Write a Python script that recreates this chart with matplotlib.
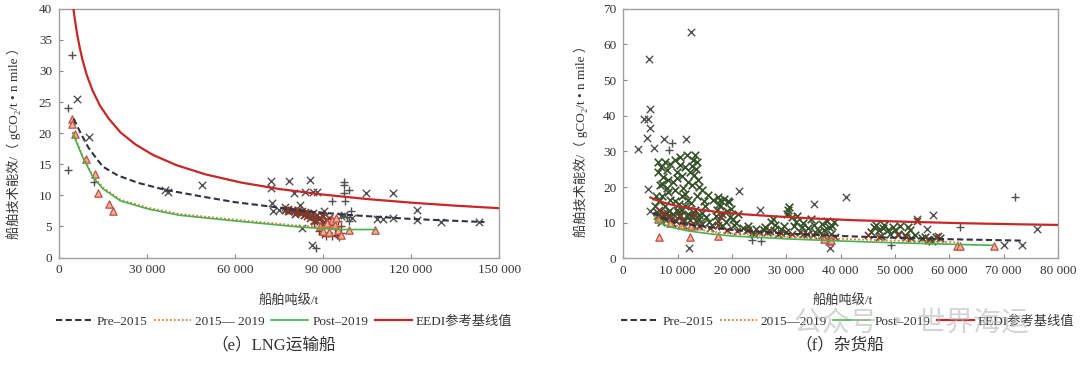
import matplotlib
matplotlib.use("Agg")
import matplotlib.pyplot as plt

plt.rcParams["font.family"] = ["Liberation Serif", "Noto Sans CJK SC", "DejaVu Serif"]
plt.rcParams["axes.unicode_minus"] = False

# ---------- (e) LNG carriers ----------
lng_eedi_x = [4900, 5200, 5600, 6200, 7000, 8000, 9500, 11500, 14000, 17000, 21000, 26000,
              32000, 40000, 50000, 62000, 75000, 90000, 105000, 120000, 135000, 150000]
lng_eedi_y = [40.1, 39.0, 37.7, 35.9, 33.9, 31.8, 29.3, 26.8, 24.4, 22.3, 20.1, 18.2,
              16.5, 14.85, 13.36, 12.06, 11.02, 10.12, 9.40, 8.82, 8.34, 7.93]
lng_pre_x = [5000, 7500, 10000, 12800, 15000, 20000, 27000, 36000, 50000, 60000, 72000,
             85000, 100000, 120000, 145000]
lng_pre_y = [22.3, 19.9, 17.7, 15.9, 14.6, 13.2, 12.0, 10.9, 9.7, 8.9, 8.2, 7.4, 6.8, 6.2, 5.7]
lng_mid_x = [4700, 8100, 11600, 15100, 21000, 30400, 41000, 59700, 82000, 96000]
lng_mid_y = [20.2, 16.3, 13.1, 11.2, 9.3, 8.0, 7.0, 6.1, 5.1, 4.8]
lng_post_x = [4700, 8100, 11600, 15100, 21000, 30400, 41000, 59700, 82000, 95000, 107800]
lng_post_y = [20.0, 16.1, 12.9, 11.0, 9.1, 7.8, 6.8, 5.9, 4.9, 4.5, 4.5]

lng_x_gray_x = [6000, 10400, 36000, 37100, 48800, 72200, 72200, 72500, 73000, 78500, 80000,
                82000, 77000, 82800, 86300, 84000, 86500, 88000, 85500, 90500, 104700, 113700,
                108500, 110500, 113700, 121900, 121900, 130100, 143200, 97000, 100000, 96000,
                78000, 75000]
lng_y_gray_x = [25.5, 19.3, 10.9, 10.6, 11.7, 12.3, 11.2, 8.8, 7.5, 12.3, 10.4,
                8.4, 8.2, 4.7, 2.0, 10.5, 10.5, 10.6, 12.5, 7.4, 10.3, 10.3,
                6.2, 6.2, 6.3, 7.7, 6.1, 5.7, 5.7, 6.8, 6.4, 6.6,
                7.5, 7.6]
lng_x_brown_x = [77000, 78500, 80000, 81000, 82000, 83000, 84000, 85000, 86000, 87000, 88000,
                 89000, 90000, 91000, 92000, 93000, 79500, 81500, 83500, 86500, 84500, 87500,
                 80500, 82500, 85500, 88500, 90500, 78000, 83800, 86800, 89500]
lng_y_brown_x = [7.6, 7.4, 7.5, 7.3, 7.1, 7.4, 7.0, 7.2, 6.8, 6.5, 6.9,
                 6.3, 6.7, 6.1, 6.4, 5.9, 7.7, 7.6, 6.8, 7.1, 6.6, 6.0,
                 7.0, 7.2, 6.4, 6.2, 5.7, 7.8, 7.3, 5.9, 6.9]
lng_x_brown_p = [88500, 89500, 91000, 93000, 95500, 96000, 94000, 92000, 95000, 90000, 96000,
                 87000, 91800, 94800]
lng_y_brown_p = [4.3, 3.8, 3.5, 3.4, 3.3, 4.0, 4.6, 5.2, 5.8, 5.6, 5.0, 5.5, 3.9, 3.6]
lng_x_gray_p = [3200, 4500, 3200, 12000, 97000, 97000, 97000, 97500, 93100, 99000, 99500,
                87500, 99000, 98000]
lng_y_gray_p = [24.1, 32.5, 14.1, 12.2, 12.1, 11.6, 10.3, 9.1, 9.1, 10.8, 7.5,
                1.6, 5.8, 6.5]
lng_x_tri = [4500, 4600, 5500, 9100, 12400, 13200, 17100, 18400, 89000, 90000, 91500, 93000,
             94000, 95000, 96000, 92000, 99000, 107600, 94500]
lng_y_tri = [22.3, 21.5, 19.9, 15.9, 13.4, 10.4, 8.6, 7.5, 5.0, 4.3, 5.6, 6.0,
             5.3, 4.5, 3.6, 4.1, 4.5, 4.5, 6.3]
lng_xticks = [0, 30000, 60000, 90000, 120000, 150000]
lng_xticklabels = ["0", "30 000", "60 000", "90 000", "120 000", "150 000"]
lng_yticks = [0, 5, 10, 15, 20, 25, 30, 35, 40]

# ---------- (f) general cargo ----------
gc_eedi_x = [5000, 6000, 8000, 10000, 13000, 17000, 22000, 28000, 35000, 43000, 52000,
             62000, 72000, 80000]
gc_eedi_y = [17.1, 16.4, 15.4, 14.7, 13.9, 13.1, 12.4, 11.8, 11.2, 10.7, 10.3, 9.9, 9.6, 9.4]
gc_pre_x = [5500, 7000, 10000, 15000, 20000, 30000, 40000, 50000, 60000, 73500]
gc_pre_y = [12.8, 11.5, 10.0, 8.9, 8.0, 7.0, 6.3, 5.8, 5.4, 5.0]
gc_mid_x = [5700, 7000, 9000, 12000, 16000, 20000, 30000, 40000, 50000, 62000]
gc_mid_y = [11.8, 10.6, 9.5, 8.5, 7.6, 7.0, 6.1, 5.5, 5.0, 4.5]
gc_post_x = [5700, 7000, 9000, 12000, 16000, 20000, 30000, 40000, 50000, 60000, 68000]
gc_post_y = [11.0, 9.8, 8.7, 7.7, 6.9, 6.3, 5.5, 4.9, 4.4, 4.0, 3.7]

gc_x_gray_x = [2700, 3900, 4500, 4400, 4500, 4800, 4900, 5000, 5600, 5000, 7500, 11600, 12400,
               12100, 21300, 25200, 35100, 40900, 57000, 54000, 55900, 76100, 70000, 73400, 38000]
gc_y_gray_x = [30.7, 39.1, 39.0, 33.8, 19.4, 56.0, 42.0, 36.6, 31.0, 13.3, 33.4, 33.4, 63.5,
               3.0, 18.9, 13.7, 15.3, 17.3, 12.3, 11.1, 8.3, 8.3, 3.9, 3.9, 2.8]
gc_x_green = [6440, 7670, 9510, 10430, 11660, 12890, 13200, 13500, 6440, 7360, 8280, 9810,
              11350, 12270, 13810, 14420, 15650, 6750, 7980, 9510, 11040, 12580, 7060, 8590,
              10740, 11960, 13500, 5830, 7670, 9810, 11350, 13200, 15030, 6440, 8280, 10430,
              12580, 14420, 16570, 17790, 17180,
              17350, 17600, 19380, 19830, 18240, 20140, 21090, 18880,
              22680, 23940, 25840, 27110, 27740, 29000, 29960,
              30150, 30590, 30270, 31860, 32810, 33760, 35340, 36610, 37880, 38200, 38830, 35030,
              46110, 47060, 48020, 48640, 49600, 50540, 51810, 52760, 53710, 54980, 56240,
              57510, 52440,
              7000, 9000, 11000, 13000, 8000, 10000, 12000, 14000, 6500, 9500, 12500,
              6200, 6800, 7400, 7800, 8400, 8800, 9200, 9700, 10200, 10800, 11200, 11700,
              12200, 12800, 13400, 13900, 14500, 15200, 15800, 16400,
              6900, 7200, 8000, 8600, 9100, 9900, 10500, 10900, 11400, 12000, 12600, 13000,
              13300, 14000, 14800, 8200, 10300, 6100,
              17000, 17800, 18500, 19000, 19600, 20300, 17500, 18200, 20800, 19200,
              22000, 23000, 24500, 26000, 26500, 28000, 28500, 29500, 27500, 24000,
              31000, 31500, 32000, 33000, 34000, 34500, 36000, 37000, 38500, 37500, 36500, 32500,
              45500, 46500, 47500, 49000, 50000, 51000, 53000, 55500, 56800, 58200, 47800]
gc_y_green = [27.1, 27.1, 27.6, 26.2, 29.0, 27.6, 29.0, 27.1, 24.3, 22.9, 22.0, 24.3,
              25.7, 24.3, 22.0, 19.2, 17.8, 20.6, 19.7, 19.2, 19.7, 20.6, 17.4, 16.4,
              17.4, 16.4, 17.4, 14.6, 14.6, 13.6, 14.6, 13.6, 14.6, 12.3, 11.8, 12.3,
              11.8, 12.7, 16.4, 16.4, 13.6,
              17.3, 15.4, 15.9, 14.0, 12.6, 11.2, 12.6, 10.3,
              7.9, 7.5, 7.9, 10.3, 7.9, 8.4, 7.5,
              12.6, 14.5, 13.6, 10.3, 8.9, 7.0, 7.5, 9.8, 8.9, 7.0, 10.3, 9.3,
              8.9, 7.9, 9.3, 7.9, 8.9, 7.0, 6.5, 7.9, 6.5, 5.6, 5.3,
              6.1, 8.9,
              10.3, 10.0, 9.5, 9.2, 12.8, 13.0, 12.5, 11.0, 16.0, 16.0, 15.5,
              13.0, 11.5, 12.2, 10.8, 13.4, 11.2, 12.6, 10.6, 11.8, 13.5, 10.4, 12.0,
              10.9, 13.1, 10.5, 12.2, 9.8, 11.5, 10.2, 9.4,
              25.5, 21.0, 24.8, 26.5, 21.5, 22.5, 28.5, 23.0, 18.0, 21.5, 26.0, 23.5,
              25.0, 20.0, 16.0, 18.5, 15.2, 17.5,
              12.0, 14.6, 16.8, 13.2, 11.5, 9.5, 10.5, 9.0, 10.0, 16.2,
              8.5, 9.0, 8.2, 8.8, 7.3, 9.4, 7.0, 9.0, 11.0, 7.0,
              11.5, 9.0, 12.0, 10.0, 8.5, 11.0, 7.8, 8.0, 9.0, 10.5, 6.5, 7.5,
              7.5, 9.5, 6.2, 6.8, 8.0, 9.0, 5.8, 6.0, 5.0, 5.8, 8.5]
gc_x_brown = [6500, 7500, 8500, 9500, 11000, 12500, 14000, 16000, 17500, 19000, 21000, 23000,
              25000, 27000, 29000, 31000, 33000, 35000, 37000, 39000, 45000, 47000, 50500,
              52000, 54000, 56000, 58000, 18000, 10500, 13000]
gc_y_brown = [13.5, 12.8, 11.5, 10.8, 10.2, 9.5, 9.0, 8.6, 9.3, 8.0, 7.6, 7.9,
              7.4, 7.7, 7.2, 7.0, 6.8, 6.5, 6.2, 6.0, 6.7, 6.0, 6.5,
              6.0, 10.5, 5.5, 6.2, 11.5, 11.9, 12.3]
gc_x_plus = [8900, 8400, 72100, 62000, 25300, 23600, 49300]
gc_y_plus = [32.3, 30.4, 17.1, 8.8, 4.9, 5.2, 3.9]
gc_x_tri = [6650, 12350, 6300, 8600, 10700, 12500, 17500, 37800, 38300, 37000, 61500, 62000, 68300]
gc_y_tri = [6.1, 6.1, 11.2, 10.0, 9.3, 9.0, 6.2, 5.0, 5.3, 5.5, 3.6, 3.6, 3.6]
gc_xticks = [0, 10000, 20000, 30000, 40000, 50000, 60000, 70000, 80000]
gc_xticklabels = ["0", "10 000", "20 000", "30 000", "40 000", "50 000", "60 000",
                  "70 000", "80 000"]
gc_yticks = [0, 10, 20, 30, 40, 50, 60, 70]

legend_labels_e = ["Pre–2015", "2015— 2019", "Post–2019", "EEDI参考基线值"]
legend_labels_f = ["Pre–2015", "2015—2019", "Post–2019", "EEDI参考基线值"]

C_GRAY = "#505050"
C_GREEN_PT = "#35522a"
C_BROWN = "#7d3a2c"
C_TRI_FACE = "#eeb48e"
C_TRI_EDGE = "#c0504d"
C_PRE = "#2e3440"
C_MID = "#e07b39"
C_POST = "#4caf50"
C_EEDI = "#c62828"

YLABEL = "船舶技术能效/（ gCO₂/t • n mile ）"
XLABEL = "船舶吨级/t"

fig = plt.figure(figsize=(10.8, 3.7), dpi=100)
ax1 = fig.add_axes([0.0546, 0.304, 0.4075, 0.6725])
ax2 = fig.add_axes([0.5771, 0.3014, 0.4025, 0.6751])


def draw_panel(ax, pts, lines, xticks, xticklabels, yticks, xmax, ymax):
    gx, gy, bx, by, px, py, qx, qy, tx, ty, extra = pts
    ax.scatter(gx, gy, marker="x", s=28, c=C_GRAY, linewidths=1.0, zorder=2)
    if extra is not None:
        ax.scatter(extra[0], extra[1], marker="x", s=30, c=C_GREEN_PT, linewidths=1.2, zorder=2)
    ax.scatter(bx, by, marker="x", s=26, c=C_BROWN, linewidths=1.2, zorder=3)
    ax.scatter(px, py, marker="+", s=32, c=C_BROWN, linewidths=1.0, zorder=3)
    ax.scatter(qx, qy, marker="+", s=32, c=C_GRAY, linewidths=1.0, zorder=3)
    ax.scatter(tx, ty, marker="^", s=28, facecolors=C_TRI_FACE, edgecolors=C_TRI_EDGE,
               linewidths=0.9, zorder=4)
    (prex, prey), (midx, midy), (postx, posty), (ex, ey) = lines
    h1, = ax.plot(prex, prey, ls=(0, (3, 1.6)), color=C_PRE, lw=1.5, zorder=5)
    h2, = ax.plot(midx, midy, ls=(0, (1, 1.2)), color=C_MID, lw=1.3, zorder=5)
    h3, = ax.plot(postx, posty, ls="-", color=C_POST, lw=1.2, zorder=5)
    h4, = ax.plot(ex, ey, ls="-", color=C_EEDI, lw=1.6, zorder=6)
    ax.set_xlim(0, xmax)
    ax.set_ylim(0, ymax)
    ax.set_xticks(xticks)
    ax.set_xticklabels(xticklabels)
    ax.set_yticks(yticks)
    ax.tick_params(direction="in", length=3, width=0.8, color="#888888",
                   labelsize=9.5, labelcolor="#333333", pad=5)
    for sp in ax.spines.values():
        sp.set_color("#a0a0a0")
        sp.set_linewidth(1.0)
    return [h1, h2, h3, h4]


handles_e = draw_panel(
    ax1,
    (lng_x_gray_x, lng_y_gray_x, lng_x_brown_x, lng_y_brown_x, lng_x_brown_p, lng_y_brown_p,
     lng_x_gray_p, lng_y_gray_p, lng_x_tri, lng_y_tri, None),
    ((lng_pre_x, lng_pre_y), (lng_mid_x, lng_mid_y), (lng_post_x, lng_post_y),
     (lng_eedi_x, lng_eedi_y)),
    lng_xticks, lng_xticklabels, lng_yticks, 150000, 40)

handles_f = draw_panel(
    ax2,
    (gc_x_gray_x, gc_y_gray_x, gc_x_brown, gc_y_brown, [], [], gc_x_plus, gc_y_plus,
     gc_x_tri, gc_y_tri, (gc_x_green, gc_y_green)),
    ((gc_pre_x, gc_pre_y), (gc_mid_x, gc_mid_y), (gc_post_x, gc_post_y),
     (gc_eedi_x, gc_eedi_y)),
    gc_xticks, gc_xticklabels, gc_yticks, 80000, 70)

# axis titles
fig.text(0.013, 0.622, YLABEL, rotation=90, ha="center", va="center", fontsize=9.5, color="#333333")
fig.text(0.5376, 0.627, YLABEL, rotation=90, ha="center", va="center", fontsize=9.5, color="#333333")
fig.text(0.2676, 0.189, XLABEL, ha="center", va="center", fontsize=9.5, color="#333333")
fig.text(0.7806, 0.189, XLABEL, ha="center", va="center", fontsize=9.5, color="#333333")

# legends
for handles, labels, cx in ((handles_e, legend_labels_e, 0.263), (handles_f, legend_labels_f, 0.785)):
    fig.legend(handles, labels, loc="center", bbox_to_anchor=(cx, 0.1305), ncol=4,
               frameon=False, fontsize=9.5, handlelength=2.8, handletextpad=0.3,
               columnspacing=0.5, labelcolor="#333333")

# panel captions
fig.text(0.2537, 0.0676, "（e）LNG运输船", ha="center", va="center", fontsize=12, color="#333333")
fig.text(0.7778, 0.0676, "（f）杂货船", ha="center", va="center", fontsize=12, color="#333333")

# watermark
fig.text(0.735, 0.125, "公众号 · 世界海运", ha="left", va="center", fontsize=20,
         color="#b8b8b8", alpha=0.6, family=["Noto Sans CJK SC"], zorder=10)

fig.savefig("out.png", dpi=100)
